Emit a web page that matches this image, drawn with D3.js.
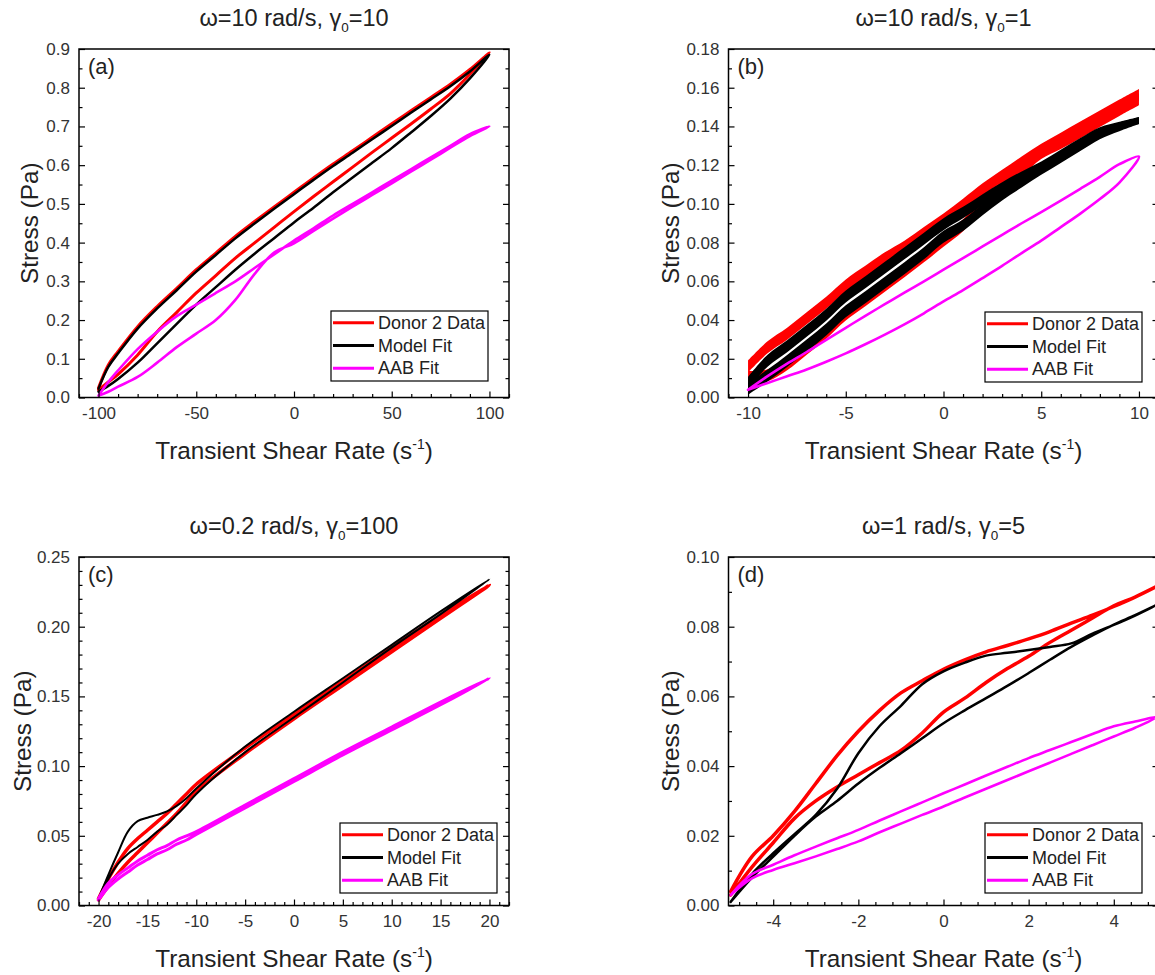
<!DOCTYPE html>
<html><head><meta charset="utf-8">
<script src="https://cdn.jsdelivr.net/npm/d3@7"></script>
<style>body{margin:0;background:#fff} svg{display:block}</style>
</head><body>
<svg id="chart" width="1155" height="975"></svg>
<script>
// ---------------- DATA ----------------
const seriesNames = ["Donor 2 Data", "Model Fit", "AAB Fit"];
const panelLetters = ["(a)", "(b)", "(c)", "(d)"];
const titleHead = ["ω=10 rad/s, γ", "ω=10 rad/s, γ", "ω=0.2 rad/s, γ", "ω=1 rad/s, γ"];
const titleTail = ["=10", "=1", "=100", "=5"];

// Panel (a)
const xA = [-100, -95, -90, -80, -70, -60, -50, -40, -30, -20, -10, 0, 10, 20, 30, 40, 50, 60, 70, 80, 90, 100];
const redUpperA   = [0.025, 0.084, 0.119, 0.183, 0.235, 0.282, 0.330, 0.373, 0.416, 0.455, 0.493, 0.530, 0.567, 0.603, 0.637, 0.672, 0.707, 0.741, 0.775, 0.809, 0.847, 0.890];
const redLowerA   = [0.020, 0.040, 0.060, 0.110, 0.170, 0.220, 0.270, 0.315, 0.360, 0.400, 0.440, 0.480, 0.519, 0.557, 0.595, 0.633, 0.670, 0.707, 0.745, 0.785, 0.835, 0.890];
const blackUpperA = [0.023, 0.079, 0.114, 0.178, 0.230, 0.277, 0.325, 0.368, 0.411, 0.450, 0.488, 0.525, 0.562, 0.598, 0.632, 0.667, 0.701, 0.736, 0.770, 0.804, 0.842, 0.885];
const blackLowerA = [0.015, 0.030, 0.048, 0.090, 0.140, 0.190, 0.240, 0.285, 0.330, 0.372, 0.412, 0.452, 0.490, 0.530, 0.568, 0.606, 0.644, 0.685, 0.727, 0.772, 0.824, 0.885];
const magUpperA   = [0.005, 0.040, 0.070, 0.125, 0.170, 0.210, 0.240, 0.270, 0.300, 0.335, 0.370, 0.405, 0.437, 0.470, 0.500, 0.530, 0.560, 0.590, 0.620, 0.650, 0.680, 0.700];
const magLowerA   = [0.005, 0.015, 0.028, 0.053, 0.090, 0.130, 0.165, 0.200, 0.252, 0.320, 0.375, 0.398, 0.430, 0.462, 0.493, 0.523, 0.553, 0.584, 0.614, 0.645, 0.675, 0.700];

// Panel (b)
const xB = [-10, -9, -8, -7, -6, -5, -4, -3, -2, -1, 0, 1, 2, 3, 4, 5, 6, 7, 8, 9, 10];
const redUpperB   = [0.0160, 0.0259, 0.0329, 0.0409, 0.0489, 0.0579, 0.0649, 0.0719, 0.0779, 0.0849, 0.0919, 0.0995, 0.1075, 0.1145, 0.1214, 0.1279, 0.1337, 0.1395, 0.1452, 0.1508, 0.1563];
const redLowerB   = [0.0105, 0.0115, 0.0172, 0.0252, 0.0335, 0.0429, 0.0502, 0.0577, 0.0652, 0.0729, 0.0809, 0.0890, 0.1000, 0.1090, 0.1175, 0.1263, 0.1315, 0.1370, 0.1428, 0.1485, 0.1540];
const blackUpperB = [0.0075, 0.0190, 0.0265, 0.0345, 0.0428, 0.0522, 0.0595, 0.0670, 0.0745, 0.0820, 0.0895, 0.0955, 0.1022, 0.1085, 0.1142, 0.1195, 0.1256, 0.1318, 0.1375, 0.1405, 0.1431];
const blackLowerB = [0.0045, 0.0113, 0.0188, 0.0268, 0.0351, 0.0445, 0.0518, 0.0593, 0.0668, 0.0745, 0.0830, 0.0890, 0.0970, 0.1045, 0.1110, 0.1175, 0.1235, 0.1295, 0.1355, 0.1395, 0.1431];
const magUpperB   = [0.004, 0.011, 0.0175, 0.0235, 0.0298, 0.036, 0.0422, 0.0482, 0.0542, 0.060, 0.066, 0.072, 0.078, 0.084, 0.090, 0.0958, 0.1017, 0.1078, 0.1140, 0.1205, 0.1245];
const magLowerB   = [0.004, 0.0075, 0.011, 0.0145, 0.0185, 0.0228, 0.0275, 0.0325, 0.0378, 0.0435, 0.0496, 0.0555, 0.0617, 0.068, 0.0746, 0.081, 0.088, 0.095, 0.1025, 0.111, 0.1245];

// Panel (c)
const xC = [-20, -19, -18, -17, -16, -15, -14, -13, -12, -11, -10, -5, 0, 5, 10, 15, 20];
const redUpperC   = [0.005, 0.019, 0.031, 0.041, 0.048, 0.054, 0.060, 0.066, 0.073, 0.080, 0.087, 0.113, 0.137, 0.161, 0.185, 0.208, 0.230];
const redLowerC   = [0.004, 0.014, 0.023, 0.031, 0.038, 0.045, 0.052, 0.059, 0.066, 0.074, 0.082, 0.109, 0.134, 0.158, 0.182, 0.206, 0.229];
const blackUpperC = [0.005, 0.022, 0.038, 0.053, 0.0605, 0.063, 0.065, 0.0675, 0.0715, 0.077, 0.084, 0.114, 0.139, 0.163, 0.187, 0.211, 0.234];
const blackLowerC = [0.004, 0.019, 0.030, 0.037, 0.042, 0.047, 0.053, 0.058, 0.065, 0.072, 0.080, 0.110, 0.135, 0.160, 0.185, 0.209, 0.233];
const magUpperC   = [0.005, 0.016, 0.022, 0.027, 0.032, 0.036, 0.040, 0.043, 0.047, 0.050, 0.053, 0.072, 0.091, 0.110, 0.128, 0.146, 0.163];
const magLowerC   = [0.004, 0.013, 0.019, 0.024, 0.029, 0.033, 0.037, 0.040, 0.044, 0.047, 0.051, 0.070, 0.089, 0.108, 0.126, 0.144, 0.161];

// Panel (d)
const xD = [-5, -4.5, -4, -3.5, -3, -2.5, -2, -1.5, -1, -0.5, 0, 0.5, 1, 1.5, 2, 2.5, 3, 3.5, 4, 4.5, 5];
const redUpperD   = [0.004, 0.014, 0.020, 0.027, 0.035, 0.043, 0.050, 0.056, 0.061, 0.0645, 0.0678, 0.0705, 0.0728, 0.0746, 0.0765, 0.0786, 0.081, 0.0833, 0.0858, 0.0885, 0.0915];
const redLowerD   = [0.003, 0.011, 0.018, 0.025, 0.030, 0.034, 0.0375, 0.041, 0.0445, 0.0495, 0.0555, 0.0595, 0.064, 0.068, 0.0715, 0.0755, 0.079, 0.0825, 0.086, 0.0885, 0.0915];
const blackUpperD = [0.001, 0.009, 0.015, 0.0205, 0.026, 0.0335, 0.0437, 0.0515, 0.0573, 0.0635, 0.0672, 0.0697, 0.0717, 0.0725, 0.0733, 0.0742, 0.0752, 0.078, 0.0805, 0.0832, 0.0862];
const blackLowerD = [0.001, 0.008, 0.014, 0.020, 0.0255, 0.030, 0.035, 0.0395, 0.0437, 0.048, 0.0523, 0.056, 0.0595, 0.063, 0.0667, 0.0705, 0.0742, 0.0775, 0.0806, 0.0833, 0.0862];
const magUpperD   = [0.003, 0.009, 0.0117, 0.0144, 0.0169, 0.0193, 0.0217, 0.0244, 0.027, 0.0296, 0.0322, 0.0347, 0.0373, 0.0398, 0.0423, 0.0446, 0.0469, 0.0492, 0.0514, 0.0528, 0.054];
const magLowerD   = [0.003, 0.0078, 0.0102, 0.0121, 0.0141, 0.0162, 0.0184, 0.021, 0.0235, 0.026, 0.0284, 0.031, 0.0335, 0.036, 0.0385, 0.041, 0.0435, 0.046, 0.0485, 0.051, 0.0535];

// Axis ticks
const xTicksA = [-100, -50, 0, 50, 100];
const xTicksB = [-10, -5, 0, 5, 10];
const xTicksC = [-20, -15, -10, -5, 0, 5, 10, 15, 20];
const xTicksD = [-4, -2, 0, 2, 4];
const yTicksA = [0, 0.1, 0.2, 0.3, 0.4, 0.5, 0.6, 0.7, 0.8, 0.9];
const yTicksB = [0, 0.02, 0.04, 0.06, 0.08, 0.10, 0.12, 0.14, 0.16, 0.18];
const yTicksC = [0, 0.05, 0.10, 0.15, 0.20, 0.25];
const yTicksD = [0, 0.02, 0.04, 0.06, 0.08, 0.10];

// ---------------- LAYOUT / STYLE ----------------
const colors = ["#ff0000", "#000000", "#ff00ff"];
const FONT = "'Liberation Sans', Arial, Helvetica, sans-serif";
const PW = 430, PH = 348.5;

// in panel (b) the noisy data / fit traces are wide bands (pixel width, may vary along x)
const bandBlackB = xv => (xv <= 0 ? 12 : 12 - 0.5 * xv);
const bandRedB = () => 12;

const panels = [
  { left: 79, top: 49, xDom: [-110, 110], yDom: [0, 0.9], x: xA,
    series: [[redUpperA, redLowerA], [blackUpperA, blackLowerA], [magUpperA, magLowerA]],
    widths: [3, 2.5, 2.6], xTicks: xTicksA, xMinor: 10, yTicks: yTicksA, yMinor: 0.05, yFmt: ".1f",
    legend: [331, 311], yTitleOff: 50 },
  { left: 728.5, top: 49, xDom: [-11, 11], yDom: [0, 0.18], x: xB,
    series: [[redUpperB, redLowerB], [blackUpperB, blackLowerB], [magUpperB, magLowerB]],
    widths: [bandRedB, bandBlackB, 2.6], xTicks: xTicksB, xMinor: 1, yTicks: yTicksB, yMinor: 0.01, yFmt: ".2f",
    legend: [985, 312], yTitleOff: 58 },
  { left: 79, top: 557, xDom: [-22, 22], yDom: [0, 0.25], x: xC,
    series: [[redUpperC, redLowerC], [blackUpperC, blackLowerC], [magUpperC, magLowerC]],
    widths: [3.5, 2, 3], xTicks: xTicksC, xMinor: 1, yTicks: yTicksC, yMinor: 0.01, yFmt: ".2f",
    legend: [340, 823], yTitleOff: 57 },
  { left: 728.5, top: 557, xDom: [-5.05, 5.05], yDom: [0, 0.10], x: xD,
    series: [[redUpperD, redLowerD], [blackUpperD, blackLowerD], [magUpperD, magLowerD]],
    widths: [3.5, 2.5, 2.6], xTicks: xTicksD, xMinor: 0.4, yTicks: yTicksD, yMinor: 0.01, yFmt: ".2f",
    legend: [985, 823], yTitleOff: 58 }
];

const svg = d3.select("#chart");
svg.append("rect").attr("width", 1155).attr("height", 975).attr("fill", "#fff");

function minorVals(dom, step, majors) {
  const out = [];
  const n0 = Math.ceil(dom[0] / step - 1e-9), n1 = Math.floor(dom[1] / step + 1e-9);
  for (let i = n0; i <= n1; i++) {
    const v = +(i * step).toFixed(6);
    if (!majors.some(m => Math.abs(m - v) < 1e-9)) out.push(v);
  }
  return out;
}

panels.forEach((p, pi) => {
  const g = svg.append("g").attr("transform", `translate(${p.left},${p.top})`);
  const x = d3.scaleLinear().domain(p.xDom).range([0, PW]);
  const y = d3.scaleLinear().domain(p.yDom).range([PH, 0]);

  const clipId = "clip" + pi;
  g.append("clipPath").attr("id", clipId).append("rect").attr("width", PW).attr("height", PH);

  const curve = d3.curveCatmullRom.alpha(0.5);
  const line = d3.line().x(d => x(d[0])).y(d => y(d[1])).curve(curve);
  const plot = g.append("g").attr("clip-path", `url(#${clipId})`);
  p.series.forEach((s, si) => {
    const w = p.widths[si];
    const up = p.x.map((xv, i) => [xv, s[0][i]]);
    const lo = p.x.map((xv, i) => [xv, s[1][i]]);
    if (typeof w === "function") {
      const area = d3.area().x(d => x(d[0]))
        .y0(d => y(d[1]) + w(d[0]) / 2).y1(d => y(d[1]) - w(d[0]) / 2).curve(curve);
      [up, lo].forEach(br => {
        plot.append("path").attr("d", area(br)).attr("fill", colors[si]).attr("stroke", "none");
      });
    } else {
      const pts = up.concat(lo.slice().reverse().slice(1));
      plot.append("path").attr("d", line(pts)).attr("fill", "none")
        .attr("stroke", colors[si]).attr("stroke-width", w)
        .attr("stroke-linejoin", "round").attr("stroke-linecap", "round");
    }
  });

  // axes (ticks inward)
  const styleAxis = sel => {
    sel.select(".domain").remove();
    sel.selectAll("line").attr("stroke", "#000").attr("stroke-width", 1.2);
    sel.selectAll("text").attr("font-family", FONT).attr("font-size", 17).attr("fill", "#333");
  };
  const fmtX = d => (d < 0 ? "-" + Math.abs(d) : "" + d);
  g.append("g").attr("transform", `translate(0,${PH})`)
    .call(d3.axisBottom(x).tickValues(p.xTicks).tickSize(-6).tickPadding(9).tickFormat(fmtX)).call(styleAxis);
  g.append("g").attr("transform", `translate(0,${PH})`)
    .call(d3.axisBottom(x).tickValues(minorVals(p.xDom, p.xMinor, p.xTicks)).tickSize(-3.5).tickFormat("")).call(styleAxis);
  g.append("g")
    .call(d3.axisLeft(y).tickValues(p.yTicks).tickSize(-6).tickPadding(9).tickFormat(d3.format(p.yFmt))).call(styleAxis);
  g.append("g")
    .call(d3.axisLeft(y).tickValues(minorVals(p.yDom, p.yMinor, p.yTicks)).tickSize(-3.5).tickFormat("")).call(styleAxis);
  g.append("g").attr("transform", `translate(${PW},0)`)
    .call(d3.axisRight(y).tickValues(p.yTicks).tickSize(-6).tickFormat("")).call(styleAxis);
  g.append("g").attr("transform", `translate(${PW},0)`)
    .call(d3.axisRight(y).tickValues(minorVals(p.yDom, p.yMinor, p.yTicks)).tickSize(-3.5).tickFormat("")).call(styleAxis);

  // frame
  g.append("rect").attr("width", PW).attr("height", PH).attr("fill", "none")
    .attr("stroke", "#000").attr("stroke-width", 1.5);

  // panel letter
  g.append("text").attr("x", 9).attr("y", 25).text(panelLetters[pi])
    .attr("font-family", FONT).attr("font-size", 22).attr("fill", "#222");

  // title
  const t = g.append("text").attr("x", PW / 2).attr("y", -23).attr("text-anchor", "middle")
    .attr("font-family", FONT).attr("font-size", 23.5).attr("fill", "#222");
  t.append("tspan").text(titleHead[pi]);
  t.append("tspan").attr("dy", 6).attr("font-size", 13.5).text("0");
  t.append("tspan").attr("dy", -6).text(titleTail[pi]);

  // x title
  const xt = g.append("text").attr("x", PW / 2).attr("y", PH + 61).attr("text-anchor", "middle")
    .attr("font-family", FONT).attr("font-size", 24.3).attr("fill", "#222");
  xt.append("tspan").text("Transient Shear Rate (s");
  xt.append("tspan").attr("dy", -10).attr("font-size", 14).text("-1");
  xt.append("tspan").attr("dy", 10).text(")");

  // y title
  g.append("text").attr("transform", `translate(${-p.yTitleOff},${PH / 2}) rotate(-90)`)
    .attr("text-anchor", "middle").attr("dominant-baseline", "central")
    .attr("font-family", FONT).attr("font-size", 24.3).attr("fill", "#222").text("Stress (Pa)");

  // legend
  const lg = svg.append("g").attr("transform", `translate(${p.legend[0]},${p.legend[1]})`);
  lg.append("rect").attr("width", 157).attr("height", 70).attr("fill", "#fff")
    .attr("stroke", "#000").attr("stroke-width", 1.2);
  seriesNames.forEach((name, i) => {
    const yy = 11.7 + i * 22.8;
    lg.append("line").attr("x1", 2).attr("x2", 43).attr("y1", yy).attr("y2", yy)
      .attr("stroke", colors[i]).attr("stroke-width", 3);
    lg.append("text").attr("x", 47).attr("y", yy).attr("dominant-baseline", "central")
      .attr("font-family", FONT).attr("font-size", 18).attr("fill", "#222").text(name);
  });
});
</script>
</body></html>
